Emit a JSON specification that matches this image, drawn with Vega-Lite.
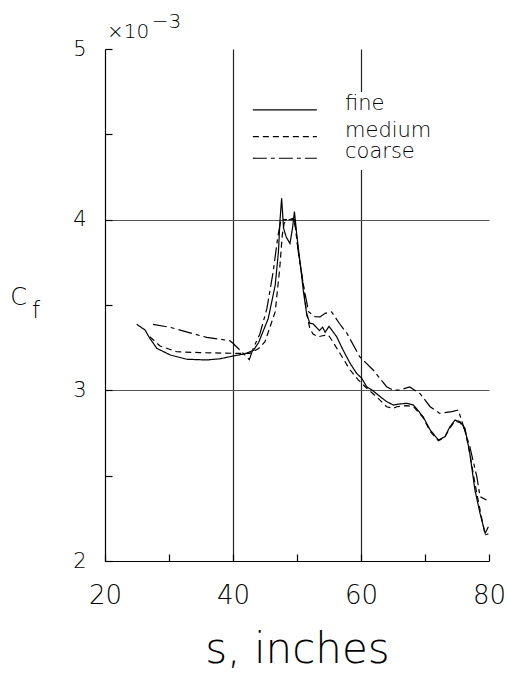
{
  "$schema": "https://vega.github.io/schema/vega-lite/v6.json",
  "width": 384,
  "height": 512,
  "autosize": "none",
  "padding": {"left": 105, "top": 49, "right": 19, "bottom": 116},
  "background": "white",
  "config": {
    "view": {"stroke": null},
    "font": "DejaVu Sans",
    "axis": {
      "domainColor": "#000000",
      "domainWidth": 1.2,
      "tickColor": "#000000",
      "tickWidth": 1.2,
      "labelColor": "#000000",
      "labelFont": "DejaVu Sans",
      "labelFontWeight": 200,
      "labelFlush": false,
      "titleFont": "DejaVu Sans",
      "titleFontWeight": 200,
      "titleColor": "#000000",
      "gridWidth": 1.2
    }
  },
  "datasets": {
    "curves": [
      {"grid": "fine", "s": 24.95, "cf": 3.387}, {"grid": "fine", "s": 26.25, "cf": 3.354}, {"grid": "fine", "s": 27.0, "cf": 3.305},
      {"grid": "fine", "s": 28.1, "cf": 3.246}, {"grid": "fine", "s": 30.2, "cf": 3.207}, {"grid": "fine", "s": 32.8, "cf": 3.182},
      {"grid": "fine", "s": 35.9, "cf": 3.178}, {"grid": "fine", "s": 38.0, "cf": 3.185}, {"grid": "fine", "s": 40.0, "cf": 3.201},
      {"grid": "fine", "s": 42.0, "cf": 3.215}, {"grid": "fine", "s": 43.2, "cf": 3.235}, {"grid": "fine", "s": 44.0, "cf": 3.28},
      {"grid": "fine", "s": 45.5, "cf": 3.42}, {"grid": "fine", "s": 46.6, "cf": 3.617}, {"grid": "fine", "s": 47.1, "cf": 3.812},
      {"grid": "fine", "s": 47.35, "cf": 4.0}, {"grid": "fine", "s": 47.6, "cf": 4.125}, {"grid": "fine", "s": 47.9, "cf": 3.95},
      {"grid": "fine", "s": 48.3, "cf": 3.9}, {"grid": "fine", "s": 48.9, "cf": 3.86}, {"grid": "fine", "s": 49.3, "cf": 3.95},
      {"grid": "fine", "s": 49.6, "cf": 4.047}, {"grid": "fine", "s": 50.0, "cf": 3.9}, {"grid": "fine", "s": 50.5, "cf": 3.744},
      {"grid": "fine", "s": 51.0, "cf": 3.58}, {"grid": "fine", "s": 51.5, "cf": 3.45}, {"grid": "fine", "s": 52.0, "cf": 3.393},
      {"grid": "fine", "s": 52.5, "cf": 3.39}, {"grid": "fine", "s": 53.0, "cf": 3.37}, {"grid": "fine", "s": 53.5, "cf": 3.35},
      {"grid": "fine", "s": 54.0, "cf": 3.37}, {"grid": "fine", "s": 54.4, "cf": 3.34}, {"grid": "fine", "s": 55.0, "cf": 3.375},
      {"grid": "fine", "s": 55.5, "cf": 3.35}, {"grid": "fine", "s": 56.2, "cf": 3.314}, {"grid": "fine", "s": 57.2, "cf": 3.236},
      {"grid": "fine", "s": 58.3, "cf": 3.158}, {"grid": "fine", "s": 59.3, "cf": 3.1}, {"grid": "fine", "s": 60.1, "cf": 3.071},
      {"grid": "fine", "s": 60.9, "cf": 3.021}, {"grid": "fine", "s": 61.7, "cf": 3.002}, {"grid": "fine", "s": 63.0, "cf": 2.963},
      {"grid": "fine", "s": 64.0, "cf": 2.934}, {"grid": "fine", "s": 65.05, "cf": 2.914}, {"grid": "fine", "s": 66.0, "cf": 2.92},
      {"grid": "fine", "s": 67.1, "cf": 2.924}, {"grid": "fine", "s": 68.2, "cf": 2.914}, {"grid": "fine", "s": 69.7, "cf": 2.846},
      {"grid": "fine", "s": 70.8, "cf": 2.768}, {"grid": "fine", "s": 72.1, "cf": 2.709}, {"grid": "fine", "s": 73.1, "cf": 2.728},
      {"grid": "fine", "s": 73.9, "cf": 2.787}, {"grid": "fine", "s": 74.7, "cf": 2.826}, {"grid": "fine", "s": 75.5, "cf": 2.816},
      {"grid": "fine", "s": 76.25, "cf": 2.777}, {"grid": "fine", "s": 77.0, "cf": 2.631}, {"grid": "fine", "s": 77.8, "cf": 2.416},
      {"grid": "fine", "s": 78.6, "cf": 2.279}, {"grid": "fine", "s": 79.4, "cf": 2.162}, {"grid": "fine", "s": 79.9, "cf": 2.201},

      {"grid": "medium", "s": 27.0, "cf": 3.314}, {"grid": "medium", "s": 28.6, "cf": 3.26}, {"grid": "medium", "s": 31.2, "cf": 3.226},
      {"grid": "medium", "s": 34.8, "cf": 3.221}, {"grid": "medium", "s": 40.0, "cf": 3.217}, {"grid": "medium", "s": 42.65, "cf": 3.217},
      {"grid": "medium", "s": 44.0, "cf": 3.245}, {"grid": "medium", "s": 45.0, "cf": 3.285}, {"grid": "medium", "s": 46.6, "cf": 3.461},
      {"grid": "medium", "s": 47.3, "cf": 3.715}, {"grid": "medium", "s": 47.7, "cf": 3.91}, {"grid": "medium", "s": 48.0, "cf": 3.98},
      {"grid": "medium", "s": 48.65, "cf": 3.998}, {"grid": "medium", "s": 49.4, "cf": 4.008}, {"grid": "medium", "s": 49.8, "cf": 3.95},
      {"grid": "medium", "s": 50.2, "cf": 3.812}, {"grid": "medium", "s": 51.0, "cf": 3.617}, {"grid": "medium", "s": 51.5, "cf": 3.45},
      {"grid": "medium", "s": 52.0, "cf": 3.363}, {"grid": "medium", "s": 52.5, "cf": 3.33}, {"grid": "medium", "s": 53.3, "cf": 3.314},
      {"grid": "medium", "s": 54.0, "cf": 3.32}, {"grid": "medium", "s": 54.9, "cf": 3.324}, {"grid": "medium", "s": 55.5, "cf": 3.29},
      {"grid": "medium", "s": 56.7, "cf": 3.217}, {"grid": "medium", "s": 58.3, "cf": 3.119}, {"grid": "medium", "s": 59.6, "cf": 3.06},
      {"grid": "medium", "s": 60.9, "cf": 3.012}, {"grid": "medium", "s": 62.4, "cf": 2.963}, {"grid": "medium", "s": 64.0, "cf": 2.904},
      {"grid": "medium", "s": 65.05, "cf": 2.895}, {"grid": "medium", "s": 65.6, "cf": 2.904}, {"grid": "medium", "s": 67.1, "cf": 2.91},
      {"grid": "medium", "s": 68.2, "cf": 2.905}, {"grid": "medium", "s": 69.7, "cf": 2.84}, {"grid": "medium", "s": 70.8, "cf": 2.76},
      {"grid": "medium", "s": 72.1, "cf": 2.705}, {"grid": "medium", "s": 73.1, "cf": 2.725}, {"grid": "medium", "s": 73.9, "cf": 2.78},
      {"grid": "medium", "s": 74.7, "cf": 2.82}, {"grid": "medium", "s": 75.5, "cf": 2.81}, {"grid": "medium", "s": 76.25, "cf": 2.77},
      {"grid": "medium", "s": 77.0, "cf": 2.63}, {"grid": "medium", "s": 77.8, "cf": 2.455}, {"grid": "medium", "s": 78.6, "cf": 2.299},
      {"grid": "medium", "s": 79.4, "cf": 2.152}, {"grid": "medium", "s": 79.9, "cf": 2.16},

      {"grid": "coarse", "s": 27.5, "cf": 3.387}, {"grid": "coarse", "s": 30.2, "cf": 3.369}, {"grid": "coarse", "s": 33.0, "cf": 3.34},
      {"grid": "coarse", "s": 35.9, "cf": 3.31}, {"grid": "coarse", "s": 39.5, "cf": 3.291}, {"grid": "coarse", "s": 40.0, "cf": 3.276},
      {"grid": "coarse", "s": 41.5, "cf": 3.22}, {"grid": "coarse", "s": 42.55, "cf": 3.18}, {"grid": "coarse", "s": 43.2, "cf": 3.25},
      {"grid": "coarse", "s": 44.2, "cf": 3.33}, {"grid": "coarse", "s": 45.3, "cf": 3.48}, {"grid": "coarse", "s": 46.3, "cf": 3.7},
      {"grid": "coarse", "s": 47.0, "cf": 3.9}, {"grid": "coarse", "s": 47.5, "cf": 4.0}, {"grid": "coarse", "s": 48.2, "cf": 4.0},
      {"grid": "coarse", "s": 49.0, "cf": 4.0}, {"grid": "coarse", "s": 49.6, "cf": 4.0}, {"grid": "coarse", "s": 50.2, "cf": 3.812},
      {"grid": "coarse", "s": 51.0, "cf": 3.617}, {"grid": "coarse", "s": 51.8, "cf": 3.461}, {"grid": "coarse", "s": 52.8, "cf": 3.432},
      {"grid": "coarse", "s": 53.6, "cf": 3.43}, {"grid": "coarse", "s": 54.4, "cf": 3.451}, {"grid": "coarse", "s": 55.4, "cf": 3.46},
      {"grid": "coarse", "s": 56.6, "cf": 3.393}, {"grid": "coarse", "s": 57.8, "cf": 3.334}, {"grid": "coarse", "s": 59.8, "cf": 3.197},
      {"grid": "coarse", "s": 61.9, "cf": 3.119}, {"grid": "coarse", "s": 64.0, "cf": 3.021}, {"grid": "coarse", "s": 65.05, "cf": 3.0},
      {"grid": "coarse", "s": 66.1, "cf": 3.002}, {"grid": "coarse", "s": 67.6, "cf": 3.02}, {"grid": "coarse", "s": 69.2, "cf": 2.982},
      {"grid": "coarse", "s": 70.8, "cf": 2.904}, {"grid": "coarse", "s": 72.3, "cf": 2.865}, {"grid": "coarse", "s": 74.2, "cf": 2.875},
      {"grid": "coarse", "s": 75.2, "cf": 2.885}, {"grid": "coarse", "s": 75.7, "cf": 2.826}, {"grid": "coarse", "s": 77.0, "cf": 2.67},
      {"grid": "coarse", "s": 78.1, "cf": 2.494}, {"grid": "coarse", "s": 78.6, "cf": 2.377}, {"grid": "coarse", "s": 79.6, "cf": 2.357}
    ],
    "key": [
      {"grid": "fine", "x1": 43.1, "x2": 53.1, "y": 4.643, "tx": 57.5},
      {"grid": "medium", "x1": 43.1, "x2": 53.1, "y": 4.486, "tx": 57.5},
      {"grid": "coarse", "x1": 43.1, "x2": 53.1, "y": 4.36, "tx": 57.5}
    ],
    "notes": [
      {"text": "×10", "x": 20.3, "y": 5.064, "size": 20},
      {"text": "−3", "x": 27.3, "y": 5.123, "size": 20},
      {"text": "C", "x": 5.2, "y": 3.5, "size": 24},
      {"text": "f", "x": 8.6, "y": 3.424, "size": 23}
    ]
  },
  "encoding": {
    "x": {
      "type": "quantitative",
      "scale": {"domain": [20, 80], "nice": false, "zero": false},
      "axis": {
        "values": [20, 30, 40, 50, 60, 70, 80],
        "labelExpr": "datum.value % 20 === 0 ? format(datum.value, 'd') : ''",
        "labelFontSize": 26,
        "labelPadding": 28,
        "tickSize": -7,
        "grid": true,
        "gridColor": "#222222",
        "gridOpacity": {"condition": {"test": "datum.value === 40 || datum.value === 60", "value": 1}, "value": 0},
        "title": "s, inches",
        "titleFontSize": 42,
        "titlePadding": 21
      }
    },
    "y": {
      "type": "quantitative",
      "scale": {"domain": [2, 5], "nice": false, "zero": false},
      "axis": {
        "values": [2, 2.5, 3, 3.5, 4, 4.5, 5],
        "labelExpr": "datum.value % 1 === 0 ? format(datum.value, 'd') : ''",
        "labelFontSize": 21,
        "labelPadding": 26,
        "tickSize": -7,
        "grid": true,
        "gridColor": "#555555",
        "gridOpacity": {"condition": {"test": "datum.value === 3 || datum.value === 4", "value": 1}, "value": 0},
        "title": null
      }
    }
  },
  "layer": [
    {
      "data": {"values": [{"x1": 41.9, "x2": 66.1, "y1": 4.291, "y2": 4.748}]},
      "mark": {"type": "rect", "fill": "white", "stroke": null},
      "encoding": {
        "x": {"field": "x1"},
        "x2": {"field": "x2"},
        "y": {"field": "y1"},
        "y2": {"field": "y2"}
      }
    },
    {
      "data": {"name": "curves"},
      "mark": {"type": "line", "color": "#000000", "strokeWidth": 1.2},
      "encoding": {
        "x": {"field": "s"},
        "y": {"field": "cf"},
        "detail": {"field": "grid"},
        "strokeDash": {
          "field": "grid",
          "type": "nominal",
          "scale": {"domain": ["fine", "medium", "coarse"], "range": [[1, 0], [6, 4], [14, 4, 4, 4]]},
          "legend": null
        }
      }
    },
    {
      "data": {"name": "key"},
      "mark": {"type": "rule", "color": "#000000", "strokeWidth": 1.2},
      "encoding": {
        "x": {"field": "x1"},
        "x2": {"field": "x2"},
        "y": {"field": "y"},
        "strokeDash": {"field": "grid", "type": "nominal", "legend": null}
      }
    },
    {
      "data": {"name": "key"},
      "mark": {"type": "text", "align": "left", "baseline": "alphabetic", "fontSize": 21, "fontWeight": 200, "color": "#000000"},
      "encoding": {
        "x": {"field": "tx"},
        "y": {"field": "y"},
        "text": {"field": "grid"}
      }
    },
    {
      "data": {"name": "notes"},
      "mark": {"type": "text", "align": "left", "baseline": "alphabetic", "fontWeight": 200, "color": "#000000"},
      "encoding": {
        "x": {"field": "x"},
        "y": {"field": "y"},
        "text": {"field": "text"},
        "size": {"field": "size", "type": "quantitative", "scale": null}
      }
    }
  ]
}
